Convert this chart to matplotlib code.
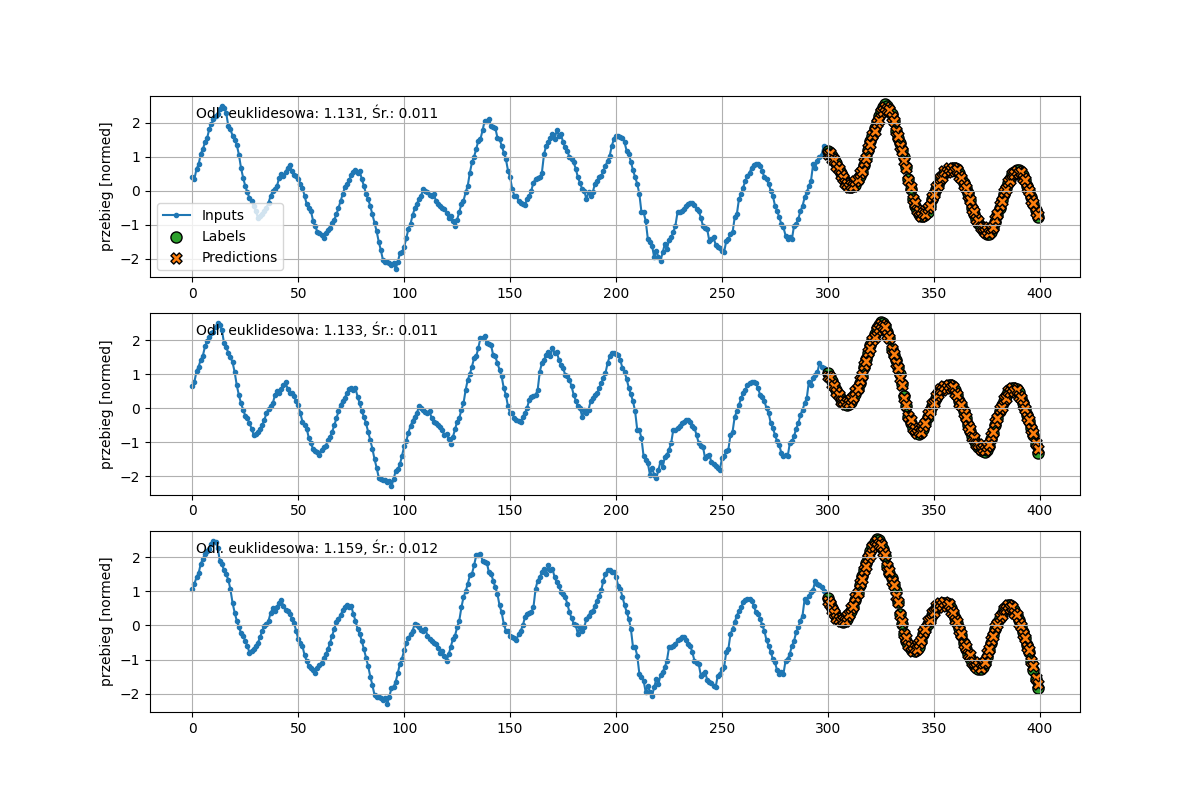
import numpy as np
import matplotlib
matplotlib.use('Agg')
import matplotlib.pyplot as plt

# Values (one long normalised series, panels are windows of it)
series = [
    0.41, 0.34, 0.64, 0.77, 1.08, 1.22, 1.42, 1.54, 1.81, 1.96,
    2.10, 2.20, 2.25, 2.39, 2.49, 2.44, 2.29, 1.90, 1.80, 1.62,
    1.50, 1.35, 1.06, 0.67, 0.38, 0.14, -0.05, -0.22, -0.30, -0.45,
    -0.60, -0.80, -0.75, -0.70, -0.60, -0.50, -0.35, -0.15, -0.02, 0.05,
    0.14, 0.38, 0.50, 0.43, 0.55, 0.67, 0.76, 0.57, 0.45, 0.43,
    0.35, 0.20, 0.08, -0.15, -0.40, -0.50, -0.60, -0.88, -1.04, -1.20,
    -1.25, -1.30, -1.39, -1.24, -1.15, -1.10, -0.95, -0.85, -0.70, -0.51,
    -0.30, -0.10, 0.10, 0.20, 0.30, 0.45, 0.55, 0.60, 0.53, 0.58,
    0.34, 0.14, -0.10, -0.25, -0.45, -0.70, -0.95, -1.19, -1.50, -1.75,
    -2.04, -2.09, -2.11, -2.12, -2.18, -2.13, -2.30, -2.09, -1.84, -1.80,
    -1.65, -1.40, -1.12, -0.97, -0.72, -0.52, -0.38, -0.25, -0.15, 0.05,
    0.00, -0.05, -0.12, -0.15, -0.10, -0.30, -0.40, -0.45, -0.50, -0.55,
    -0.65, -0.80, -0.75, -0.90, -1.05, -0.85, -0.62, -0.40, -0.30, -0.05,
    0.14, 0.53, 0.83, 1.00, 1.22, 1.47, 1.52, 1.77, 2.06, 2.06,
    2.11, 1.90, 1.88, 1.85, 1.56, 1.52, 1.32, 1.12, 0.93, 0.59,
    0.39, 0.05, -0.15, -0.15, -0.30, -0.35, -0.38, -0.42, -0.25, -0.15,
    0.00, 0.24, 0.34, 0.36, 0.39, 0.53, 1.07, 1.32, 1.42, 1.56,
    1.66, 1.52, 1.77, 1.62, 1.66, 1.42, 1.27, 1.17, 0.98, 0.93,
    0.83, 0.64, 0.39, 0.22, 0.05, 0.00, -0.25, -0.05, -0.15, -0.05,
    0.20, 0.29, 0.39, 0.43, 0.58, 0.73, 0.88, 1.03, 1.32, 1.52,
    1.62, 1.62, 1.58, 1.56, 1.42, 1.17, 1.07, 0.85, 0.60, 0.40,
    0.20, -0.10, -0.64, -0.64, -0.89, -1.42, -1.52, -1.62, -1.96, -1.77,
    -1.96, -2.06, -1.81, -1.57, -1.72, -1.45, -1.37, -1.22, -1.03, -0.64,
    -0.64, -0.59, -0.54, -0.44, -0.40, -0.35, -0.35, -0.42, -0.54, -0.59,
    -0.79, -1.03, -1.10, -1.13, -1.47, -1.42, -1.37, -1.59, -1.65, -1.69,
    -1.77, -1.81, -1.47, -1.42, -1.27, -1.22, -0.78, -0.69, -0.25, -0.10,
    0.09, 0.29, 0.43, 0.53, 0.68, 0.75, 0.78, 0.78, 0.73, 0.58,
    0.39, 0.34, 0.20, 0.00, -0.15, -0.44, -0.59, -0.78, -0.98, -1.08,
    -1.32, -1.42, -1.37, -1.42, -1.03, -0.98, -0.83, -0.60, -0.45, -0.20,
    -0.05, 0.14, 0.29, 0.78, 0.68, 0.88, 0.98, 1.05, 1.32, 1.22,
    # 300..
    1.18, 1.12, 1.02, 0.92, 0.80, 0.65, 0.52, 0.39, 0.27, 0.17,
    0.12, 0.10, 0.13, 0.18, 0.30, 0.42, 0.55, 0.75, 0.95, 1.20,
    1.45, 1.62, 1.85, 2.01, 2.18, 2.35, 2.45, 2.54, 2.50, 2.40,
    2.25, 2.05, 1.75, 1.55, 1.40, 1.20, 1.00, 0.70, 0.35, 0.05,
    -0.25, -0.45, -0.58, -0.68, -0.73, -0.75, -0.70, -0.62, -0.45, -0.25,
    -0.10, 0.05, 0.17, 0.30, 0.43, 0.52, 0.58, 0.62, 0.65, 0.67,
    0.67, 0.63, 0.52, 0.38, 0.22, 0.08, -0.08, -0.28, -0.50, -0.68,
    -0.83, -0.95, -1.06, -1.15, -1.22, -1.27, -1.28, -1.22, -1.11, -0.92,
    -0.72, -0.50, -0.28, -0.10, 0.08, 0.22, 0.35, 0.48, 0.55, 0.60,
    0.60, 0.55, 0.46, 0.30, 0.15, -0.02, -0.20, -0.38, -0.58, -0.78,
    -1.05, -1.32, -1.58, -1.85,
]

# model output for steps 300..403 of the series
predicted = [
    1.08, 1.12, 0.94, 0.90, 0.72, 0.64, 0.46, 0.38, 0.22, 0.20,
    0.12, 0.17, 0.14, 0.27, 0.33, 0.51, 0.58, 0.83, 0.96, 1.26,
    1.38, 1.64, 1.76, 1.99, 2.08, 2.30, 2.34, 2.47, 2.40, 2.38,
    2.16, 2.06, 1.74, 1.60, 1.32, 1.18, 0.88, 0.68, 0.30, 0.10,
    -0.24, -0.36, -0.58, -0.60, -0.74, -0.66, -0.70, -0.52, -0.44, -0.18,
    -0.10, 0.12, 0.16, 0.36, 0.40, 0.57, 0.54, 0.66, 0.60, 0.68,
    0.58, 0.62, 0.44, 0.38, 0.16, 0.09, -0.14, -0.26, -0.54, -0.62,
    -0.84, -0.88, -1.06, -1.06, -1.21, -1.16, -1.24, -1.10, -1.06, -0.82,
    -0.70, -0.42, -0.30, -0.04, 0.04, 0.26, 0.30, 0.49, 0.48, 0.59,
    0.51, 0.54, 0.36, 0.30, 0.08, -0.02, -0.26, -0.36, -0.62, -0.72,
    -1.04, -1.20, -1.54, -1.72,
]

offsets = [0, 2, 4]
distances = [1.131, 1.133, 1.159]
means = [0.011, 0.011, 0.012]

input_width = 300
label_width = 100

series = np.array(series)
predicted = np.array(predicted)
input_idx = np.arange(input_width)
label_idx = np.arange(input_width, input_width + label_width)

fig = plt.figure(figsize=(12, 8))

for n, off in enumerate(offsets):
    ax = plt.subplot(3, 1, n + 1)
    inputs = series[off:off + input_width]
    labels = series[off + input_width:off + input_width + label_width]
    preds = predicted[off:off + label_width]

    ax.set_ylabel('przebieg [normed]')
    ax.plot(input_idx, inputs, label='Inputs', marker='.', zorder=-10)
    ax.scatter(label_idx, labels, edgecolors='k', label='Labels', c='#2ca02c', s=64)
    ax.scatter(label_idx, preds, marker='X', edgecolors='k', label='Predictions',
               c='#ff7f0e', s=64)
    ax.text(0.05, 0.88, f'Odl. euklidesowa: {distances[n]:.3f}, Śr.: {means[n]:.3f}',
            transform=ax.transAxes)
    ax.grid(True)

    if n == 0:
        ax.legend(loc='lower left')

fig.savefig('out.png', dpi=100)
